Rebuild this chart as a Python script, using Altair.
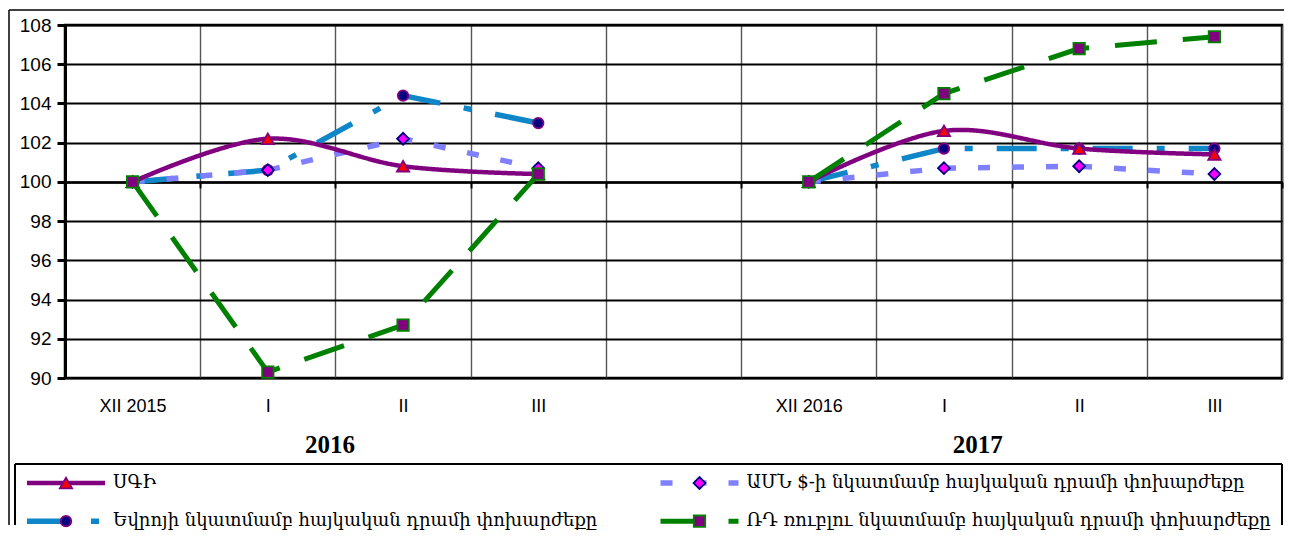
import json
import altair as alt
import pandas as pd

# ---------------- data ----------------
slot_labels = ["XII 2015", "I", "II", "III", "", "XII 2016", "I", "II", "III"]
slots_2016 = [0, 1, 2, 3]
slots_2017 = [5, 6, 7, 8]
years = ["2016", "2017"]

series_keys = ["cpi", "usd", "eur", "rub"]
series_names = {
    "cpi": "ՍԳԻ",
    "usd": "ԱՄՆ $-ի նկատմամբ հայկական դրամի փոխարժեքը",
    "eur": "Եվրոյի նկատմամբ հայկական դրամի փոխարժեքը",
    "rub": "ՌԴ ռուբլու նկատմամբ հայկական դրամի  փոխարժեքը",
}

cpi_2016 = [100, 102.2, 100.8, 100.4]
cpi_2017 = [100, 102.6, 101.7, 101.4]
usd_2016 = [100, 100.6, 102.2, 100.7]
usd_2017 = [100, 100.7, 100.8, 100.4]
eur_2016 = [100, 100.6, 104.4, 103.0]
eur_2017 = [100, 101.7, 101.7, 101.7]
rub_2016 = [100, 90.3, 92.7, 100.4]
rub_2017 = [100, 104.5, 106.8, 107.4]

vals16 = {"cpi": cpi_2016, "usd": usd_2016, "eur": eur_2016, "rub": rub_2016}
vals17 = {"cpi": cpi_2017, "usd": usd_2017, "eur": eur_2017, "rub": rub_2017}

rows = []
for key in series_keys:
    for yr, slots, vals in (("2016", slots_2016, vals16[key]), ("2017", slots_2017, vals17[key])):
        for s, v in zip(slots, vals):
            rows.append({"series": key, "year": yr, "slot": s, "value": v})
df = pd.DataFrame(rows)

styles = {
    "cpi": dict(color="#800080", width=4.5, dash=[1, 0], interp="cardinal",
                shape="triangle-up", fill="#FF0000", stroke="#800080", size=150),
    "usd": dict(color="#8080FF", width=5.5, dash=[12, 22], interp="linear",
                shape="diamond", fill="#FF00FF", stroke="#000080", size=140),
    "eur": dict(color="#0F86C8", width=5.5, dash=[40, 24, 8, 24], interp="linear",
                shape="circle", fill="#000080", stroke="#800080", size=110),
    "rub": dict(color="#008000", width=5, dash=[42, 26], interp="linear",
                shape="square", fill="#800080", stroke="#008000", size=130),
}
draw_order = ["eur", "usd", "cpi", "rub"]

# ---------------- main plot ----------------
W, H = 1217, 353
AX_FONT = "Liberation Sans"

x_scale = alt.Scale(type="band", domain=list(range(9)), paddingInner=0, paddingOuter=0)
y_scale = alt.Scale(domain=[90, 108], nice=False, zero=False)
label_expr = json.dumps(slot_labels) + "[datum.value]"

y_axis = alt.Axis(values=list(range(90, 109, 2)), title=None, grid=True,
                  gridColor="black", gridWidth=2, domainColor="black", domainWidth=3,
                  tickColor="black", tickWidth=3, tickSize=8, labelFont=AX_FONT,
                  labelFontSize=19, labelColor="black", labelPadding=6)


def Y(axis=None):
    return alt.Y("value:Q", scale=y_scale, axis=axis)


def X(axis=None, bp=0.5):
    return alt.X("slot:O", scale=x_scale, axis=axis, bandPosition=bp)


main_axis = alt.Axis(orient="bottom", title=None, labelExpr=label_expr, labelAngle=0,
                     labelFont=AX_FONT, labelFontSize=18, labelColor="black",
                     labelPadding=19, ticks=False, domain=False, grid=True,
                     gridColor="#555555", gridWidth=1.4, tickBand="extent")
tick_axis = alt.Axis(orient="bottom", title=None, offset=-(H * 10 / 18), labels=False,
                     ticks=True, tickBand="extent", tickSize=6, tickWidth=2,
                     tickColor="black", domain=True, domainColor="black",
                     domainWidth=2.5, grid=False)

base = alt.Chart(df)
layers = [
    base.mark_point(opacity=0).encode(x=X(main_axis), y=Y(y_axis)),
    base.mark_point(opacity=0).encode(x=X(tick_axis), y=Y(y_axis)),
]
for k in draw_order:
    st = styles[k]
    layers.append(
        base.transform_filter(alt.datum.series == k)
        .mark_line(color=st["color"], strokeWidth=st["width"], strokeDash=st["dash"],
                   interpolate=st["interp"], strokeCap="butt")
        .encode(x=X(), y=Y(y_axis), detail="year:N")
    )
for k in draw_order:
    st = styles[k]
    layers.append(
        base.transform_filter(alt.datum.series == k)
        .mark_point(shape=st["shape"], filled=True, fill=st["fill"], stroke=st["stroke"],
                    strokeWidth=1.8, size=st["size"], opacity=1)
        .encode(x=X(), y=Y(y_axis))
    )

year_anchor = {"2016": (1, 0.96), "2017": (6, 0.75)}
for yr in years:
    s, bp = year_anchor[yr]
    layers.append(
        alt.Chart(pd.DataFrame({"slot": [s], "year": [yr]}))
        .mark_text(font="Liberation Serif", fontWeight="bold", fontSize=25,
                   color="black", baseline="middle", align="center")
        .encode(x=X(bp=bp), y=alt.value(H + 67), text="year:N")
    )

main = alt.layer(*layers).resolve_axis(x="independent")

# ---------------- legend (own scales, placed below the plot) ----------------
leg_df = pd.DataFrame([
    {"key": k, "name": series_names[k], "col": i % 2, "row": i // 2}
    for i, k in enumerate(series_keys)
])
lx = alt.Scale(domain=[0, 2], range=[-50, W], nice=False, zero=False)
ly = alt.Scale(domain=[-0.5, 1.1], range=[H + 86, H + 147], nice=False, zero=False)
LX = alt.X("col:Q", scale=lx, axis=None)
LY = alt.Y("row:Q", scale=ly, axis=None)
lbase = alt.Chart(leg_df)
leg_layers = []
for k in series_keys:
    st = styles[k]
    f = lbase.transform_filter(alt.datum.key == k)
    leg_layers.append(
        f.mark_rule(color=st["color"], strokeWidth=st["width"], strokeDash=st["dash"],
                    xOffset=12, x2Offset=90, strokeCap="butt")
        .encode(x=LX, x2=alt.X2("col"), y=LY)
    )
    leg_layers.append(
        f.mark_point(shape=st["shape"], filled=True, fill=st["fill"], stroke=st["stroke"],
                     strokeWidth=1.8, size=st["size"], opacity=1, xOffset=51)
        .encode(x=LX, y=LY)
    )
    leg_layers.append(
        f.mark_text(font="DejaVu Serif", fontSize=18, color="black", align="left",
                    baseline="middle", dx=98)
        .encode(x=LX, y=LY, text="name:N")
    )

one = pd.DataFrame({"k": [0]})
# legend box: top, left and right edges (bottom is below the page edge)
box_top = alt.Chart(one).mark_rule(color="black", strokeWidth=2).encode(
    x=alt.X(datum=0, scale=lx, axis=None), x2=alt.X2(datum=2),
    y=alt.Y(datum=-0.5, scale=ly, axis=None))
box_left = alt.Chart(one).mark_rule(color="black", strokeWidth=2).encode(
    x=alt.X(datum=0, scale=lx, axis=None),
    y=alt.Y(datum=-0.5, scale=ly, axis=None), y2=alt.Y2(datum=1.1))
box_right = alt.Chart(one).mark_rule(color="black", strokeWidth=2).encode(
    x=alt.X(datum=2, scale=lx, axis=None),
    y=alt.Y(datum=-0.5, scale=ly, axis=None), y2=alt.Y2(datum=1.1))
legend = alt.layer(box_top, box_left, box_right, *leg_layers)

# ---------------- outer frame (left and top edges) ----------------
fx = alt.Scale(domain=[0, 1], range=[-56, W + 2], nice=False, zero=False)
fy = alt.Scale(domain=[0, 1], range=[-15, H + 147], nice=False, zero=False)
frame_top = alt.Chart(one).mark_rule(color="black", strokeWidth=1.5).encode(
    x=alt.X(datum=0, scale=fx, axis=None), x2=alt.X2(datum=1),
    y=alt.Y(datum=0, scale=fy, axis=None))
frame_left = alt.Chart(one).mark_rule(color="black", strokeWidth=1.5).encode(
    x=alt.X(datum=0, scale=fx, axis=None),
    y=alt.Y(datum=0, scale=fy, axis=None), y2=alt.Y2(datum=1))
frame = alt.layer(frame_top, frame_left)

chart = (alt.layer(main, legend, frame)
         .resolve_scale(x="independent", y="independent")
         .properties(width=W, height=H,
                     padding={"left": 0, "top": 1, "right": 0, "bottom": 0},
                     background="white")
         .configure_view(stroke="black", strokeWidth=2.5))

chart.save("out.html", embed_options={"renderer": "svg", "actions": False})
